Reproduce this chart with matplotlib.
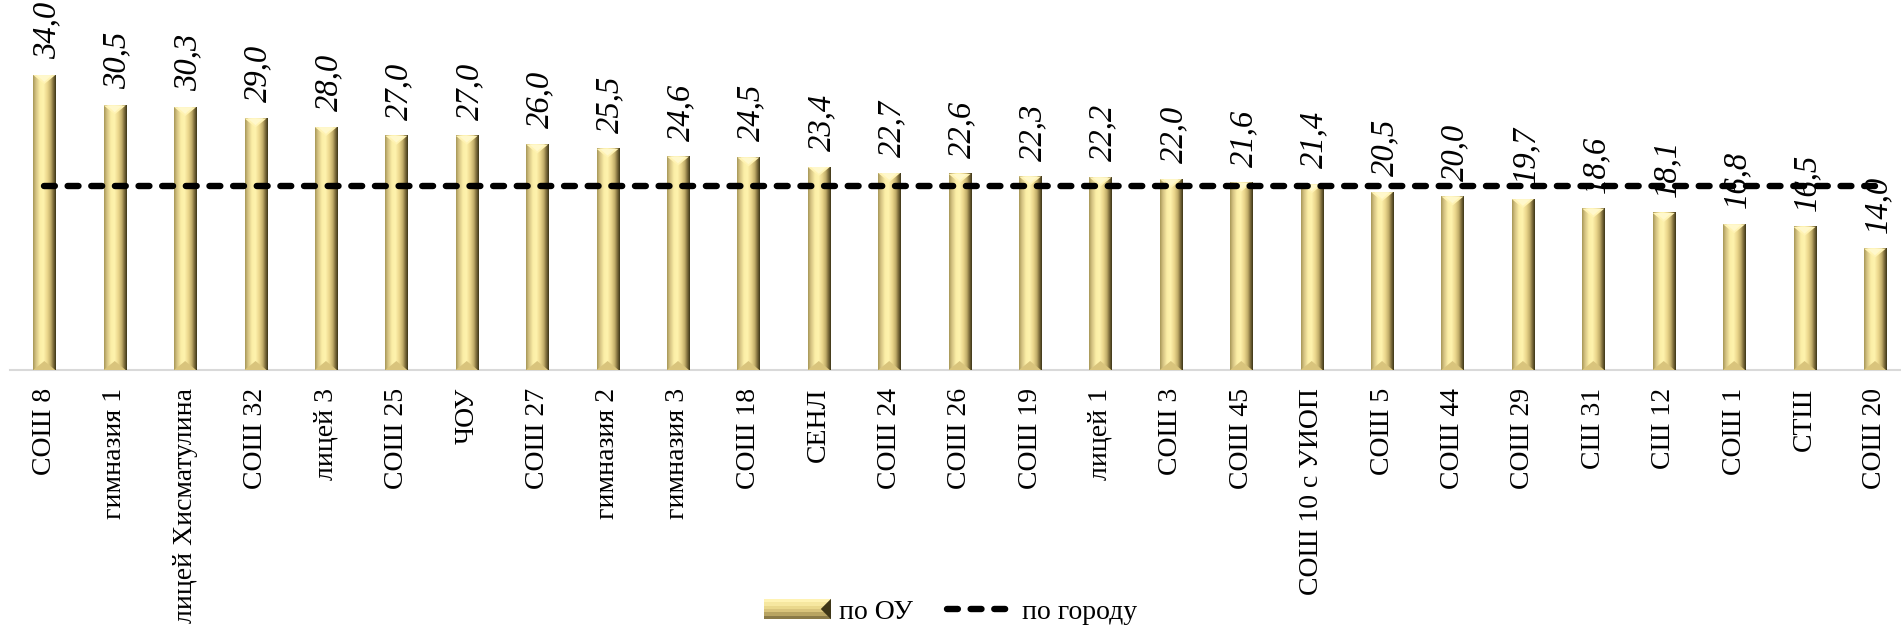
import matplotlib
matplotlib.use("Agg")
import matplotlib.pyplot as plt
import numpy as np
from matplotlib.colors import LinearSegmentedColormap
from matplotlib.patches import Polygon, Rectangle
from matplotlib.legend_handler import HandlerBase

categories = ["СОШ 8", "гимназия 1", "лицей Хисматулина", "СОШ 32", "лицей 3", "СОШ 25",
              "ЧОУ", "СОШ 27", "гимназия 2", "гимназия 3", "СОШ 18", "СЕНЛ", "СОШ 24",
              "СОШ 26", "СОШ 19", "лицей 1", "СОШ 3", "СОШ 45", "СОШ 10 с УИОП", "СОШ 5",
              "СОШ 44", "СОШ 29", "СШ 31", "СШ 12", "СОШ 1", "СТШ", "СОШ 20"]
values_ou = [34.0, 30.5, 30.3, 29.0, 28.0, 27.0, 27.0, 26.0, 25.5, 24.6, 24.5, 23.4, 22.7,
             22.6, 22.3, 22.2, 22.0, 21.6, 21.4, 20.5, 20.0, 19.7, 18.6, 18.1, 16.8, 16.5, 14.0]
city_value = 21.2
series_names = ["по ОУ", "по городу"]

plt.rcParams['font.family'] = ['Liberation Serif', 'DejaVu Serif']

W, H, DPI = 1901, 634, 100
fig = plt.figure(figsize=(W / DPI, H / DPI), dpi=DPI)
ax = fig.add_axes([10 / W, (H - 370) / H, 1 - 10 / W, 347 / H])
YMAX = 40
XLIM = (-0.487, 26.37)

x = np.arange(len(categories))
bw = 0.3125
bars = ax.bar(x, values_ou, width=bw, color='#e8d890', zorder=2, linewidth=0)

grad = LinearSegmentedColormap.from_list('g', [
    (0.0, '#a89858'), (0.12, '#d4c282'), (0.3, '#fbeea6'), (0.45, '#fff3ae'),
    (0.62, '#ecd88e'), (0.78, '#c2ae6a'), (0.9, '#7a6a3a'), (1.0, '#3e3618')])
gimg = grad(np.linspace(0, 1, 64))[None, :, :]

ax_h_px = 347
dy_px = YMAX / ax_h_px
bev = 9 * dy_px

for b in bars:
    bx, w, h = b.get_x(), b.get_width(), b.get_height()
    b.set_alpha(0)
    ax.imshow(gimg, extent=[bx, bx + w, 0, h], aspect='auto', zorder=2.1,
              interpolation='bilinear')
    ax.add_patch(Polygon([[bx, h], [bx + w, h], [bx + w / 2, h - bev]],
                         closed=True, facecolor='#fff3b4', edgecolor='none', zorder=2.2))
    ax.add_patch(Polygon([[bx + w * 0.15, h], [bx + w * 0.85, h], [bx + w / 2, h - bev * 0.75]],
                         closed=True, facecolor='#fff8cc', edgecolor='none', zorder=2.25))
    ax.add_patch(Polygon([[bx, 0], [bx + w, 0], [bx + w / 2, bev]],
                         closed=True, facecolor='#d9c47c', edgecolor='none', zorder=2.2))

ax.set_aspect('auto')
ax.set_ylim(0, YMAX)
ax.set_xlim(*XLIM)

line, = ax.plot(x, [city_value] * len(x), color='black', lw=4.6,
                linestyle=(0, (1.7, 2.0)), dash_capstyle='round', zorder=3)

for xi, v in zip(x, values_ou):
    ax.annotate(f"{v:.1f}".replace('.', ','), (xi, v), xytext=(2, 11.5),
                textcoords='offset points', rotation=90, ha='center', va='bottom',
                fontsize=23.5, fontstyle='italic', zorder=4)

ax.set_xticks(x)
ax.set_xticklabels(categories, rotation=90, fontsize=20, va='top', ha='center')
ax.tick_params(axis='x', length=0, pad=13)
ax.set_yticks([])
for s in ['top', 'left', 'right']:
    ax.spines[s].set_visible(False)
ax.spines['bottom'].set_color('#d9d9d9')
ax.spines['bottom'].set_linewidth(1.5)
ax.spines['bottom'].set_zorder(1)


class BevelHandler(HandlerBase):
    def create_artists(self, legend, orig_handle, xdescent, ydescent, width, height,
                       fontsize, trans):
        arts = []
        hh = height * 1.05
        y0 = -ydescent + (height - hh) / 2
        cols = ['#fff3b4', '#f6e7a0', '#ead88c', '#d9c47c', '#b8a462', '#8a7a48']
        n = len(cols)
        for i, c in enumerate(cols):
            r = Rectangle((-xdescent, y0 + hh * (n - 1 - i) / n), width, hh / n,
                          facecolor=c, edgecolor='none', transform=trans)
            arts.append(r)
        tri = Polygon([[-xdescent + width, y0], [-xdescent + width, y0 + hh],
                       [-xdescent + width - hh * 0.5, y0 + hh / 2]], closed=True,
                      facecolor='#3e3618', edgecolor='none', transform=trans)
        arts.append(tri)
        return arts


proxy_bar = Rectangle((0, 0), 1, 1)
leg = fig.legend([proxy_bar, line], series_names, loc='center', bbox_to_anchor=(0.5, (H - 612) / H),
                 ncol=2, frameon=False, fontsize=20, handlelength=2.4, handletextpad=0.3,
                 columnspacing=1.2, handler_map={Rectangle: BevelHandler()})

fig.savefig('out.png', dpi=DPI)
